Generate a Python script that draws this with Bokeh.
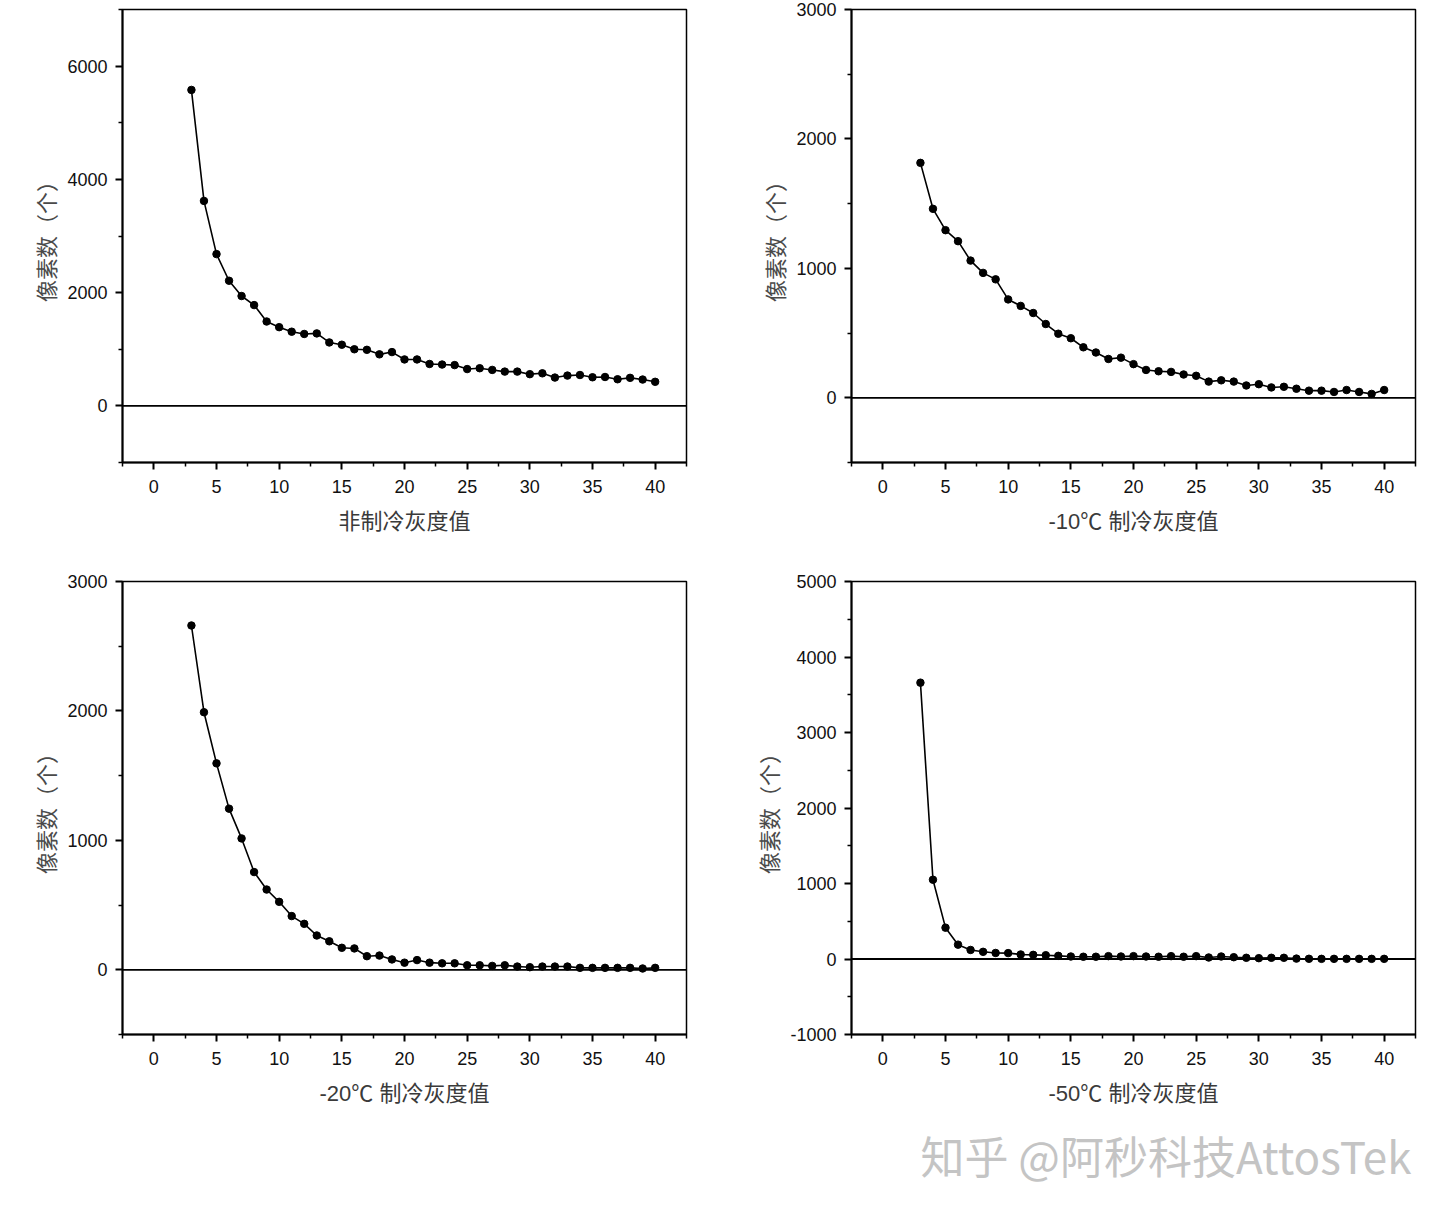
from bokeh.plotting import figure
from bokeh.models import Range1d, FixedTicker, Span, Label, CustomJSTickFormatter
from bokeh.layouts import column, row
from bokeh.embed import file_html
from bokeh.resources import INLINE

# ---------------- data ----------------
gray_levels = list(range(3, 41))

uncooled = [5580, 3620, 2680, 2210, 1940, 1780, 1490, 1390, 1310, 1270, 1280, 1120, 1080, 1000,
            990, 910, 950, 820, 820, 740, 730, 720, 650, 665, 635, 605, 605, 560, 575, 500,
            535, 545, 505, 510, 470, 495, 465, 425]
cooled_m10 = [1815, 1460, 1295, 1210, 1060, 965, 915, 760, 710, 655, 570, 495, 460, 390, 350,
              300, 310, 260, 215, 205, 200, 180, 170, 125, 135, 125, 95, 105, 80, 85, 70, 55,
              55, 45, 60, 45, 30, 60]
cooled_m20 = [2660, 1990, 1595, 1245, 1015, 755, 620, 525, 415, 355, 265, 220, 170, 165, 105,
              110, 80, 55, 75, 55, 50, 50, 35, 35, 30, 35, 25, 20, 25, 25, 25, 15, 15, 15, 15,
              15, 10, 15]
cooled_m50 = [3660, 1050, 415, 190, 120, 95, 80, 78, 60, 55, 50, 42, 33, 30, 30, 38, 33, 38, 33,
              30, 38, 30, 38, 20, 33, 24, 16, 11, 16, 16, 5, 3, 2, 2, 2, 2, 2, 2]

x_labels = ["非制冷灰度值", "-10℃ 制冷灰度值", "-20℃ 制冷灰度值", "-50℃ 制冷灰度值"]
y_label = "像素数（个）"
y_ranges = [(-1000, 7000), (-500, 3000), (-500, 3000), (-1000, 5000)]
y_major = [[0, 2000, 4000, 6000], [0, 1000, 2000, 3000], [0, 1000, 2000, 3000],
           [-1000, 0, 1000, 2000, 3000, 4000, 5000]]
y_minor = [[-1000, 1000, 3000, 5000, 7000], [-500, 500, 1500, 2500], [-500, 500, 1500, 2500],
           [-500, 500, 1500, 2500, 3500, 4500]]
x_major = [0, 5, 10, 15, 20, 25, 30, 35, 40]
x_minor = [-2.5, 2.5, 7.5, 12.5, 17.5, 22.5, 27.5, 32.5, 37.5, 42.5]
watermark = "知乎 @阿秒科技AttosTek"

TICK_FONT = "Liberation Sans"
CJK_FONT = "Noto Sans CJK SC"


def make_panel(series, xlabel, yr, ymaj, ymin, width, height, bl, br, bt, bb):
    p = figure(width=width, height=height, output_backend="svg", toolbar_location=None,
               x_range=Range1d(-2.5, 42.5), y_range=Range1d(*yr),
               min_border_left=bl, min_border_right=br, min_border_top=bt, min_border_bottom=bb)
    p.grid.visible = False
    p.outline_line_color = "black"
    p.outline_line_width = 1.5
    p.background_fill_color = "white"
    p.border_fill_color = "white"

    p.xaxis.ticker = FixedTicker(ticks=x_major, minor_ticks=x_minor)
    p.yaxis.ticker = FixedTicker(ticks=ymaj, minor_ticks=ymin)
    p.yaxis.formatter = CustomJSTickFormatter(code="return String(tick);")
    for ax in (p.xaxis, p.yaxis):
        ax.axis_line_width = 2
        ax.axis_line_color = "black"
        ax.major_tick_in = 0
        ax.major_tick_out = 7
        ax.minor_tick_in = 0
        ax.minor_tick_out = 4
        ax.major_tick_line_width = 2
        ax.minor_tick_line_width = 1.5
        ax.major_label_text_font = TICK_FONT
        ax.major_label_text_font_size = "18px"
        ax.major_label_text_color = "#111111"
        ax.axis_label_text_font_style = "normal"
    p.xaxis.major_label_standoff = 10
    p.yaxis.major_label_standoff = 8
    p.xaxis.axis_label = xlabel
    p.xaxis.axis_label_text_font = "'Liberation Sans', 'Noto Sans CJK SC'"
    p.xaxis.axis_label_text_font_size = "22px"
    p.xaxis.axis_label_text_color = "#3a3a3a"
    p.xaxis.axis_label_standoff = 13
    p.yaxis.axis_label = y_label
    p.yaxis.axis_label_text_font = CJK_FONT
    p.yaxis.axis_label_text_font_size = "22px"
    p.yaxis.axis_label_text_color = "#4a4a4a"
    p.yaxis.axis_label_standoff = 3

    p.add_layout(Span(location=0, dimension="width", line_color="black", line_width=1.8))
    p.line(gray_levels, series, line_color="black", line_width=1.6)
    p.scatter(gray_levels, series, size=7.5, marker="circle", fill_color="black", line_color="black")
    return p


W1, W2 = 728, 704
H1, H2 = 570, 540

p1 = make_panel(uncooled, x_labels[0], y_ranges[0], y_major[0], y_minor[0],
                W1, H1, 122, 42, 9, 108)
p2 = make_panel(cooled_m10, x_labels[1], y_ranges[1], y_major[1], y_minor[1],
                W2, H1, 123, 17, 9, 108)
p3 = make_panel(cooled_m20, x_labels[2], y_ranges[2], y_major[2], y_minor[2],
                W1, H2, 122, 42, 11, 76)
p4 = make_panel(cooled_m50, x_labels[3], y_ranges[3], y_major[3], y_minor[3],
                W2, H2, 123, 17, 11, 76)

pw = figure(width=1432, height=90, output_backend="svg", toolbar_location=None,
            x_range=Range1d(0, 1432), y_range=Range1d(0, 90), min_border=0)
pw.axis.visible = False
pw.grid.visible = False
pw.outline_line_color = None
pw.add_layout(Label(x=920, y=46, x_units="screen", y_units="screen", text=watermark,
                    text_font=CJK_FONT, text_font_size="44px", text_color="#c4c4c4",
                    text_baseline="middle", text_align="left",
                    border_line_color=None))

layout = column(row(p1, p2), row(p3, p4), pw)

with open("out.html", "w") as f:
    f.write(file_html(layout, INLINE))
